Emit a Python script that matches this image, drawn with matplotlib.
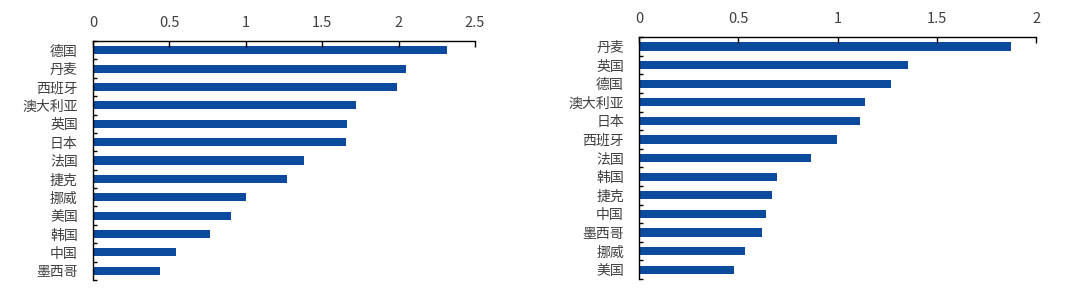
import numpy as np
import matplotlib
matplotlib.use('Agg')
import matplotlib.pyplot as plt
from matplotlib.ticker import FixedLocator

plt.rcParams['font.family'] = ['Noto Sans CJK SC', 'DejaVu Sans']

# ---------- data ----------
left_names = ['德国', '丹麦', '西班牙', '澳大利亚', '英国', '日本', '法国',
              '捷克', '挪威', '美国', '韩国', '中国', '墨西哥']
left_vals = [2.315, 2.05, 1.99, 1.72, 1.665, 1.655, 1.38,
             1.27, 1.0, 0.905, 0.766, 0.543, 0.436]

right_names = ['丹麦', '英国', '德国', '澳大利亚', '日本', '西班牙', '法国',
               '韩国', '捷克', '中国', '墨西哥', '挪威', '美国']
right_vals = [1.872, 1.355, 1.267, 1.138, 1.114, 0.997, 0.867,
              0.697, 0.671, 0.639, 0.62, 0.535, 0.476]

left_xticks = [0, 0.5, 1, 1.5, 2, 2.5]
right_xticks = [0, 0.5, 1, 1.5, 2]

BAR_COLOR = '#0c4a9e'
TEXT_COLOR = '#404040'


def draw(ax, names, vals, xticks):
    n = len(names)
    y = np.arange(n)
    ax.barh(y, vals, height=0.44, color=BAR_COLOR)
    ax.set_ylim(n - 0.5, -0.5)
    ax.set_xlim(xticks[0], xticks[-1])
    ax.set_xticks(xticks)
    ax.set_xticklabels([f'{t:g}' for t in xticks])
    ax.xaxis.tick_top()
    ax.tick_params(axis='x', direction='in', length=4, width=1, pad=8,
                   labelsize=10.5, labelcolor=TEXT_COLOR, color='black')
    # category labels, ticks at boundaries
    ax.set_yticks(y)
    ax.set_yticklabels(names)
    ax.tick_params(axis='y', which='major', length=0, pad=11,
                   labelsize=10, labelcolor=TEXT_COLOR)
    ax.yaxis.set_minor_locator(FixedLocator(np.arange(-0.5, n + 0.5, 1)))
    ax.tick_params(axis='y', which='minor', direction='in', length=3, width=1,
                   color='black')
    for s in ['right', 'bottom']:
        ax.spines[s].set_visible(False)
    for s in ['top', 'left']:
        ax.spines[s].set_linewidth(1)
        ax.spines[s].set_color('black')


fig = plt.figure(figsize=(10.67, 2.9), dpi=100)
ax1 = fig.add_axes([0.0872, 0.0345, 0.358, 0.824])
ax2 = fig.add_axes([0.599, 0.038, 0.372, 0.834])
draw(ax1, left_names, left_vals, left_xticks)
draw(ax2, right_names, right_vals, right_xticks)

fig.savefig('out.png', dpi=100)
